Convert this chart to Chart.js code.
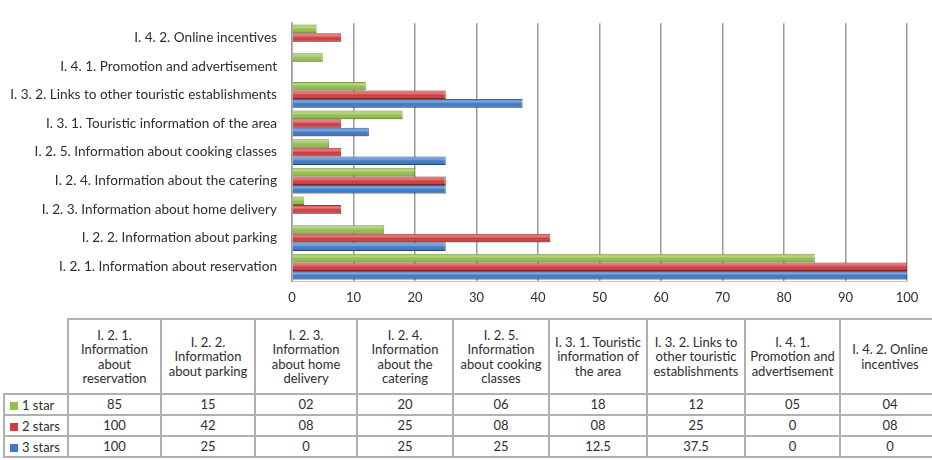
<!DOCTYPE html>
<html>
<head>
<meta charset="UTF-8">
<title>Website information by hotel category</title>
<script src="https://cdn.jsdelivr.net/npm/chart.js@4"></script>
<style>
  html, body { margin: 0; padding: 0; background: #fff; }
  body { width: 932px; height: 460px; position: relative; overflow: hidden; font-family: Lato, "Open Sans", sans-serif; color: #2e2e2e; }
  #wrap { position: absolute; left: 0; top: 0; width: 932px; height: 312px; }
  #tbl { position: absolute; left: 3px; top: 318px; width: 936px; border-collapse: collapse; table-layout: fixed; font-size: 13px; }
  #tbl td, #tbl th { border: 2px solid #b0b0b0; text-align: center; font-weight: normal; padding: 0 1px; }
  #tbl thead th { height: 73px; line-height: 14.5px; }
  #tbl thead th.corner { border: none; }
  #tbl tbody td { height: 19px; line-height: 19px; }
  #tbl tbody th { text-align: left; padding-left: 5px; white-space: nowrap; }
  .key { display: inline-block; width: 8px; height: 8px; margin-right: 4px; }
</style>
</head>
<body>
<div id="wrap"><canvas id="chart"></canvas></div>
<table id="tbl"></table>

<script>
// categories, bottom to top on the chart / left to right in the table
const categories = [
  'I. 2. 1. Information about reservation',
  'I. 2. 2. Information about parking',
  'I. 2. 3. Information about home delivery',
  'I. 2. 4. Information about the catering',
  'I. 2. 5. Information about cooking classes',
  'I. 3. 1. Touristic information of the area',
  'I. 3. 2. Links to other touristic establishments',
  'I. 4. 1. Promotion and advertisement',
  'I. 4. 2. Online incentives'
];

// same categories, wrapped for the table header
const headerLines = [
  ['I. 2. 1.', 'Information', 'about', 'reservation'],
  ['I. 2. 2.', 'Information', 'about parking'],
  ['I. 2. 3.', 'Information', 'about home', 'delivery'],
  ['I. 2. 4.', 'Information', 'about the', 'catering'],
  ['I. 2. 5.', 'Information', 'about cooking', 'classes'],
  ['I. 3. 1. Touristic', 'information of', 'the area'],
  ['I. 3. 2. Links to', 'other touristic', 'establishments'],
  ['I. 4. 1.', 'Promotion and', 'advertisement'],
  ['I. 4. 2. Online', 'incentives']
];

const seriesNames = ['1 star', '2 stars', '3 stars'];
const oneStarText   = ['85', '15', '02', '20', '06', '18', '12', '05', '04'];
const twoStarsText  = ['100', '42', '08', '25', '08', '08', '25', '0', '08'];
const threeStarsText = ['100', '25', '0', '25', '25', '12.5', '37.5', '0', '0'];

const oneStar = oneStarText.map(Number);
const twoStars = twoStarsText.map(Number);
const threeStars = threeStarsText.map(Number);

const xTicks = [0, 10, 20, 30, 40, 50, 60, 70, 80, 90, 100];

const colors = ['#92c04a', '#d23b3f', '#3f78c6'];
const edges = ['#6d9430', '#9e2528', '#2a5796'];

// light band + dark lower edge on each bar for a rounded look
const shading = {
  id: 'shading',
  afterDatasetsDraw(chart) {
    const ctx = chart.ctx;
    chart.data.datasets.forEach((ds, i) => {
      chart.getDatasetMeta(i).data.forEach(bar => {
        const left = Math.min(bar.x, bar.base), w = Math.abs(bar.x - bar.base);
        if (w < 1) return;
        const top = bar.y - bar.height / 2, h = bar.height;
        const g = ctx.createLinearGradient(0, top, 0, top + h);
        g.addColorStop(0, 'rgba(255,255,255,0.05)');
        g.addColorStop(0.3, 'rgba(255,255,255,0.35)');
        g.addColorStop(0.55, 'rgba(255,255,255,0.0)');
        g.addColorStop(1, 'rgba(0,0,0,0.25)');
        ctx.save();
        ctx.fillStyle = g;
        ctx.fillRect(left, top, w, h);
        ctx.restore();
      });
    });
  }
};

new Chart(document.getElementById('chart'), {
  type: 'bar',
  data: {
    labels: categories,
    datasets: [
      { label: seriesNames[0], data: oneStar },
      { label: seriesNames[1], data: twoStars },
      { label: seriesNames[2], data: threeStars }
    ].map((d, i) => Object.assign(d, {
      backgroundColor: colors[i],
      borderColor: edges[i],
      borderWidth: 1,
      categoryPercentage: 0.9,
      barPercentage: 1.0
    }))
  },
  options: {
    indexAxis: 'y',
    responsive: true,
    maintainAspectRatio: false,
    animation: false,
    layout: { padding: { top: 15, right: 25, left: 0, bottom: 0 } },
    plugins: { legend: { display: false }, tooltip: { enabled: false } },
    scales: {
      x: {
        min: 0, max: 100,
        afterBuildTicks: s => { s.ticks = xTicks.map(v => ({ value: v })); },
        afterFit: s => { s.height = 31; },
        grid: { color: '#9a9a9a', lineWidth: 1.5, drawTicks: false },
        border: { display: true, color: '#c8c8c8' },
        ticks: { padding: 9, color: '#2e2e2e', font: { family: 'Lato', size: 13 } }
      },
      y: {
        reverse: true,
        afterFit: s => { s.width = 292; },
        grid: { display: false, drawTicks: false },
        border: { display: true, color: '#9a9a9a', width: 1.5 },
        ticks: { padding: 15, color: '#2e2e2e', font: { family: 'Lato', size: 13.6 } }
      }
    }
  },
  plugins: [shading]
});

// data table under the chart
const tbl = document.getElementById('tbl');
const colWidths = [64, 93, 94, 102, 96, 96, 98, 98, 95, 100];
let html = '<colgroup>' + colWidths.map(w => `<col style="width:${w}px">`).join('') + '</colgroup>';
html += '<thead><tr><th class="corner"></th>' +
  headerLines.map(l => `<th>${l.join('<br>')}</th>`).join('') + '</tr></thead><tbody>';
[oneStarText, twoStarsText, threeStarsText].forEach((row, i) => {
  html += `<tr><th><span class="key" style="background:${colors[i]}"></span>${seriesNames[i]}</th>` +
    row.map(v => `<td>${v}</td>`).join('') + '</tr>';
});
html += '</tbody>';
tbl.innerHTML = html;
</script>
</body>
</html>
